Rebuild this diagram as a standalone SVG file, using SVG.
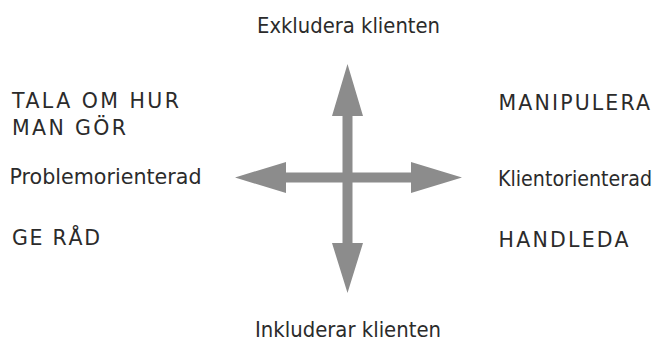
<svg xmlns="http://www.w3.org/2000/svg" width="662" height="341" viewBox="0 0 662 341">
<style>
.t{font-family:"DejaVu Sans","Liberation Sans",sans-serif;font-size:20.5px;fill:#2b2b2b}
.a{fill:#8c8c8c}
</style>
<rect width="662" height="341" fill="#fff"/>
<g id="connectors">
<polygon class="a" points="347.5,64 363,116 352.5,116 352.5,243 363,243 347.5,293 332,243 342.5,243 342.5,116 332,116"/>
<polygon class="a" points="235,177.5 286,162 286,172.5 411,172.5 411,162 462,177.5 411,193 411,182.5 286,182.5 286,193"/>
</g>
<g id="top"><text class="t" x="257" y="33" textLength="183" lengthAdjust="spacingAndGlyphs">Exkludera klienten</text></g>
<g id="bottom"><text class="t" x="255" y="337" textLength="186" lengthAdjust="spacingAndGlyphs">Inkluderar klienten</text></g>
<g id="tala"><text class="t" x="12" y="108" textLength="167" lengthAdjust="spacing">TALA OM HUR</text>
<text class="t" x="12" y="135" textLength="114" lengthAdjust="spacing">MAN GÖR</text></g>
<g id="problem"><text class="t" x="9.5" y="184" textLength="192" lengthAdjust="spacingAndGlyphs">Problemorienterad</text></g>
<g id="gerad"><text class="t" x="12" y="245" textLength="88" lengthAdjust="spacing">GE RÅD</text></g>
<g id="manipulera"><text class="t" x="498.5" y="110" textLength="151.5" lengthAdjust="spacing">MANIPULERA</text></g>
<g id="klient"><text class="t" x="498" y="186" textLength="154" lengthAdjust="spacingAndGlyphs">Klientorienterad</text></g>
<g id="handleda"><text class="t" x="498.5" y="246.5" textLength="130" lengthAdjust="spacing">HANDLEDA</text></g>
</svg>
